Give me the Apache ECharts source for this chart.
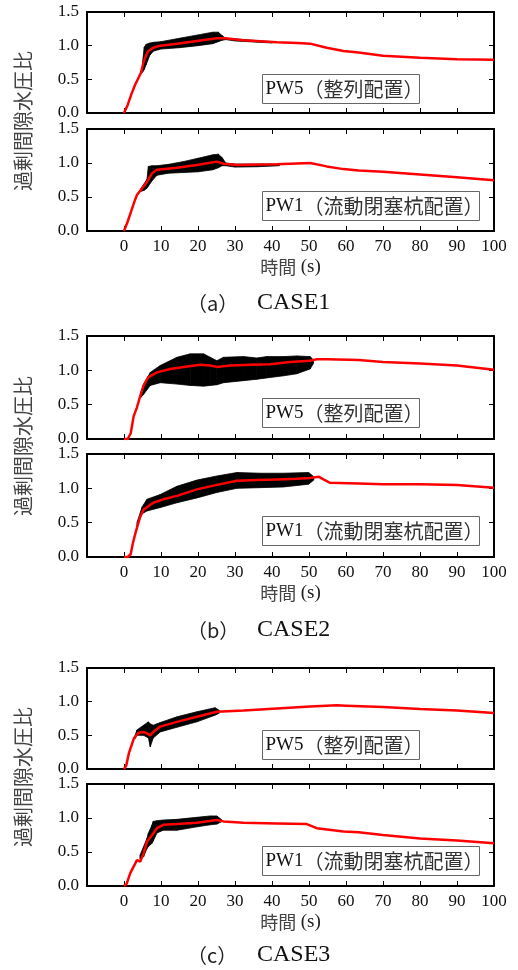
<!DOCTYPE html>
<html>
<head>
<meta charset="utf-8">
<script src="https://cdn.jsdelivr.net/npm/echarts@6/dist/echarts.min.js"></script>
<style>
  html, body { margin: 0; padding: 0; background: #fff; }
  #chart { width: 518px; height: 970px; }
</style>
</head>
<body>
<div id="chart"></div>
<script>
// --- data: [time (s), excess pore pressure ratio] ---
var c1Pw5Mean = [[0,0],[1,0.12],[2,0.28],[3,0.42],[4,0.53],[4.6,0.6],[5.3,0.76],[6,0.86],[6.6,0.92],[7.9,0.97],[9.8,1.0],[14.3,1.03],[19.7,1.07],[25.1,1.11],[27.4,1.11],[32.3,1.08],[41.3,1.05],[47,1.04],[50.3,1.03],[54.8,0.97],[59.3,0.92],[63.4,0.9],[70,0.85],[80,0.82],[90,0.8],[100,0.79]];
var c1Pw5BandT  = [5, 5.5, 6, 7, 8, 10, 15, 20, 24, 25.5, 26.5, 27.5, 30, 40];
var c1Pw5BandLo = [0.6, 0.65, 0.72, 0.86, 0.92, 0.95, 0.97, 1.0, 1.03, 1.06, 1.08, 1.09, 1.07, 1.04];
var c1Pw5BandHi = [0.75, 0.98, 1.02, 1.04, 1.05, 1.06, 1.11, 1.16, 1.2, 1.2, 1.15, 1.11, 1.1, 1.06];

var c1Pw1Mean = [[0,0],[1,0.14],[2,0.3],[3,0.46],[3.5,0.53],[4.9,0.63],[6.2,0.72],[7.6,0.85],[8.9,0.9],[14.3,0.93],[19.7,0.97],[25.1,1.02],[26.9,0.99],[30.5,0.97],[41.3,0.98],[50.3,1.0],[54.8,0.95],[59.3,0.91],[63.4,0.89],[70,0.87],[80,0.83],[90,0.79],[100,0.745]];
var c1Pw1BandT  = [4.5, 5.5, 6.2, 6.6, 7.6, 8.9, 12, 16, 20, 24, 25.5, 26.5, 27.5, 30, 36, 42];
var c1Pw1BandLo = [0.58, 0.6, 0.63, 0.66, 0.74, 0.82, 0.85, 0.86, 0.87, 0.9, 0.93, 0.96, 0.96, 0.94, 0.945, 0.96];
var c1Pw1BandHi = [0.62, 0.7, 0.76, 0.95, 0.96, 0.96, 0.98, 1.02, 1.07, 1.12, 1.13, 1.08, 1.0, 0.985, 0.985, 0.985];

var c2Pw5Mean = [[0,0],[1,0],[1.5,0.02],[1.8,0.08],[2.6,0.33],[3.5,0.46],[4.4,0.63],[5.3,0.78],[6.6,0.9],[8.9,0.97],[12.5,1.02],[16.1,1.05],[20.6,1.08],[23.3,1.07],[25.1,1.05],[28.7,1.07],[34.1,1.08],[39.5,1.09],[44.9,1.12],[50.3,1.14],[52.1,1.16],[55,1.16],[63.4,1.15],[70,1.12],[80,1.1],[90,1.07],[100,1.01]];
var c2Pw5BandT  = [4.5, 5.3, 7.1, 9.8, 14.3, 17.9, 21.5, 23.3, 25.1, 26.9, 32.3, 35.9, 38.6, 43.1, 46.7, 50.3, 51.2];
var c2Pw5BandLo = [0.6, 0.65, 0.78, 0.82, 0.8, 0.78, 0.77, 0.78, 0.79, 0.82, 0.85, 0.87, 0.89, 0.92, 0.95, 1.02, 1.1];
var c2Pw5BandHi = [0.66, 0.8, 0.97, 1.07, 1.19, 1.24, 1.24, 1.19, 1.14, 1.19, 1.2, 1.18, 1.2, 1.2, 1.21, 1.2, 1.15];

var c2Pw1Mean = [[0,0],[1,0],[1.5,0.01],[1.8,0.04],[2.4,0.2],[3.1,0.35],[4.4,0.59],[5.3,0.69],[7.9,0.79],[10.6,0.84],[14.3,0.89],[19.7,0.985],[25.1,1.05],[30.5,1.11],[35.9,1.12],[41.3,1.13],[46.7,1.14],[50.3,1.15],[52.6,1.17],[53.9,1.13],[55.7,1.08],[63.4,1.07],[70,1.06],[80,1.06],[90,1.05],[100,1.01]];
var c2Pw1BandT  = [3.5, 4.9, 6.2, 9.8, 14.3, 19.7, 25.1, 30.5, 36.8, 43.1, 49.9, 51.3];
var c2Pw1BandLo = [0.45, 0.63, 0.67, 0.72, 0.79, 0.86, 0.94, 1.0, 1.01, 1.02, 1.06, 1.12];
var c2Pw1BandHi = [0.5, 0.73, 0.84, 0.91, 1.03, 1.12, 1.18, 1.23, 1.22, 1.22, 1.23, 1.17];

var c3Pw5Mean = [[0,0],[0.6,0.05],[1.35,0.24],[2.7,0.46],[4,0.54],[5.3,0.55],[6.2,0.53],[7.1,0.5],[7.9,0.55],[9.8,0.63],[14.3,0.7],[19.7,0.775],[25.1,0.85],[32.3,0.87],[41.3,0.9],[50.3,0.93],[57.5,0.945],[60,0.94],[70,0.92],[80,0.89],[90,0.87],[100,0.83]];
var c3Pw5BandT  = [3, 3.5, 5.3, 6.6, 7.1, 7.9, 9.8, 14.3, 19.7, 24.6, 25.8];
var c3Pw5BandLo = [0.45, 0.5, 0.5, 0.46, 0.33, 0.46, 0.55, 0.62, 0.7, 0.8, 0.83];
var c3Pw5BandHi = [0.5, 0.58, 0.65, 0.7, 0.67, 0.65, 0.69, 0.775, 0.85, 0.91, 0.87];

var c3Pw1Mean = [[0,0],[0.7,0.03],[1.7,0.19],[3.5,0.38],[3.9,0.4],[4.4,0.36],[5.3,0.48],[6.2,0.65],[7.6,0.75],[8.9,0.85],[10.6,0.9],[14.3,0.91],[19.7,0.93],[25.1,0.97],[26.9,0.95],[32.3,0.93],[41.3,0.92],[49.4,0.91],[52.1,0.85],[59.3,0.8],[63.4,0.79],[70,0.75],[80,0.7],[90,0.67],[100,0.63]];
var c3Pw1BandT  = [4.3, 5.3, 6.2, 6.6, 7.6, 7.9, 8.9, 10.6, 14.3, 19.7, 23.3, 25.1, 26.5];
var c3Pw1BandLo = [0.4, 0.43, 0.55, 0.58, 0.63, 0.66, 0.78, 0.82, 0.82, 0.87, 0.9, 0.91, 0.95];
var c3Pw1BandHi = [0.45, 0.58, 0.7, 0.78, 0.9, 0.95, 0.96, 0.97, 0.98, 1.01, 1.03, 1.03, 0.97];

var xTicks = { min: -10, max: 100, interval: 10 };
var yTicks = { min: 0, max: 1.5, interval: 0.5 };
var yTitle = '過剰間隙水圧比';
var xTitle = '時間';
var xUnit = '(s)';

(function() {
  var serif = '"Liberation Serif","Times New Roman",serif';
  var gothic = '"Noto Sans CJK JP","Noto Sans CJK SC",sans-serif';

  var panels = [
    { mean: c1Pw5Mean, t: c1Pw5BandT, lo: c1Pw5BandLo, hi: c1Pw5BandHi, id: 'PW5', note: '（整列配置）', top: 12, height: 101, boxW: 157, last: false },
    { mean: c1Pw1Mean, t: c1Pw1BandT, lo: c1Pw1BandLo, hi: c1Pw1BandHi, id: 'PW1', note: '（流動閉塞杭配置）', top: 129, height: 102, boxW: 217, last: true },
    { mean: c2Pw5Mean, t: c2Pw5BandT, lo: c2Pw5BandLo, hi: c2Pw5BandHi, id: 'PW5', note: '（整列配置）', top: 336, height: 103, boxW: 157, last: false },
    { mean: c2Pw1Mean, t: c2Pw1BandT, lo: c2Pw1BandLo, hi: c2Pw1BandHi, id: 'PW1', note: '（流動閉塞杭配置）', top: 454, height: 103, boxW: 217, last: true },
    { mean: c3Pw5Mean, t: c3Pw5BandT, lo: c3Pw5BandLo, hi: c3Pw5BandHi, id: 'PW5', note: '（整列配置）', top: 668, height: 101, boxW: 157, last: false },
    { mean: c3Pw1Mean, t: c3Pw1BandT, lo: c3Pw1BandLo, hi: c3Pw1BandHi, id: 'PW1', note: '（流動閉塞杭配置）', top: 784, height: 102, boxW: 217, last: true }
  ];
  var cases = [
    { tag: '（a）', name: 'CASE1', mid: 121, capY: 303 },
    { tag: '（b）', name: 'CASE2', mid: 446, capY: 630 },
    { tag: '（c）', name: 'CASE3', mid: 777, capY: 955 }
  ];

  var gridLeft = 87, gridWidth = 407;
  var frame = { show: true, onZero: false, lineStyle: { color: '#000', width: 2 } };
  var tick = { show: true, inside: true, length: 5, lineStyle: { color: '#000', width: 1 } };

  var grids = [], xAxes = [], yAxes = [], series = [], graphics = [];

  panels.forEach(function(p, i) {
    grids.push({ left: gridLeft, top: p.top, width: gridWidth, height: p.height });

    xAxes.push({
      gridIndex: i, type: 'value', position: 'bottom',
      min: xTicks.min, max: xTicks.max, interval: xTicks.interval,
      axisLine: frame, axisTick: tick, splitLine: { show: false },
      axisLabel: {
        show: p.last, margin: 7, fontFamily: serif, fontSize: 17, color: '#111',
        formatter: function(v) { return v < 0 ? '' : String(v); }
      },
      name: p.last ? '{c|' + xTitle + '} {s|' + xUnit + '}' : '',
      nameLocation: 'middle', nameGap: 27,
      nameTextStyle: {
        fontFamily: serif, fontSize: 18,
        rich: {
          c: { fontFamily: gothic, fontSize: 18, color: '#444' },
          s: { fontFamily: serif, fontSize: 19, color: '#222' }
        }
      }
    });
    xAxes.push({
      gridIndex: i, type: 'value', position: 'top',
      min: xTicks.min, max: xTicks.max, interval: xTicks.interval,
      axisLine: frame, axisTick: tick, axisLabel: { show: false }, splitLine: { show: false }
    });
    yAxes.push({
      gridIndex: i, type: 'value', position: 'left',
      min: yTicks.min, max: yTicks.max, interval: yTicks.interval,
      axisLine: frame, axisTick: tick, splitLine: { show: false },
      axisLabel: {
        margin: 8, fontFamily: serif, fontSize: 17, color: '#111',
        formatter: function(v) { return v.toFixed(1); }
      }
    });
    yAxes.push({
      gridIndex: i, type: 'value', position: 'right',
      min: yTicks.min, max: yTicks.max, interval: yTicks.interval,
      axisLine: frame, axisTick: tick, axisLabel: { show: false }, splitLine: { show: false }
    });

    // black band of the raw record, drawn as quads between consecutive samples
    series.push({
      type: 'custom', xAxisIndex: 2 * i, yAxisIndex: 2 * i, silent: true, clip: true,
      data: p.t.map(function(t, k) { return [t, p.lo[k], p.hi[k]]; }),
      encode: { x: 0, y: [1, 2] },
      renderItem: function(params, api) {
        var k = params.dataIndex;
        if (k >= p.t.length - 1) return null;
        var pts = [
          api.coord([p.t[k], p.lo[k]]),
          api.coord([p.t[k + 1], p.lo[k + 1]]),
          api.coord([p.t[k + 1], p.hi[k + 1]]),
          api.coord([p.t[k], p.hi[k]])
        ];
        return { type: 'polygon', shape: { points: pts },
                 style: { fill: '#000', stroke: '#000', lineWidth: 0.8 } };
      }
    });
    series.push({
      type: 'line', xAxisIndex: 2 * i, yAxisIndex: 2 * i,
      data: p.mean, symbol: 'none', silent: true, z: 5,
      lineStyle: { color: '#ff0000', width: 2.5 }
    });

    graphics.push({
      type: 'group', left: 262, top: p.top + 62, z: 100,
      children: [
        { type: 'rect', shape: { x: 0, y: 0, width: p.boxW, height: 29 },
          style: { fill: '#fff', stroke: '#666', lineWidth: 1 } },
        { type: 'text', x: 3, y: 15,
          style: {
            text: '{s|' + p.id + '}{g|' + p.note + '}',
            verticalAlign: 'middle',
            rich: {
              s: { fontFamily: serif, fontSize: 19, fill: '#111' },
              g: { fontFamily: gothic, fontSize: 20, fill: '#333' }
            }
          } }
      ]
    });
  });

  cases.forEach(function(c) {
    graphics.push({
      type: 'text', x: 23, y: c.mid, rotation: Math.PI / 2,
      style: {
        text: yTitle, fontFamily: gothic, fontSize: 20, fill: '#444',
        align: 'center', verticalAlign: 'middle'
      }
    });
    graphics.push({
      type: 'text', x: 187, y: c.capY,
      style: { text: c.tag, fontFamily: gothic, fontSize: 20, fill: '#222', verticalAlign: 'middle' }
    });
    graphics.push({
      type: 'text', x: 257, y: c.capY,
      style: { text: c.name, fontFamily: serif, fontSize: 24, fill: '#111', verticalAlign: 'middle' }
    });
  });

  var chart = echarts.init(document.getElementById('chart'), null, { renderer: 'canvas' });
  chart.setOption({
    animation: false,
    backgroundColor: '#fff',
    textStyle: { fontFamily: serif },
    grid: grids,
    xAxis: xAxes,
    yAxis: yAxes,
    series: series,
    graphic: graphics
  });
  window.addEventListener('resize', function() { chart.resize(); });
})();
</script>
</body>
</html>
